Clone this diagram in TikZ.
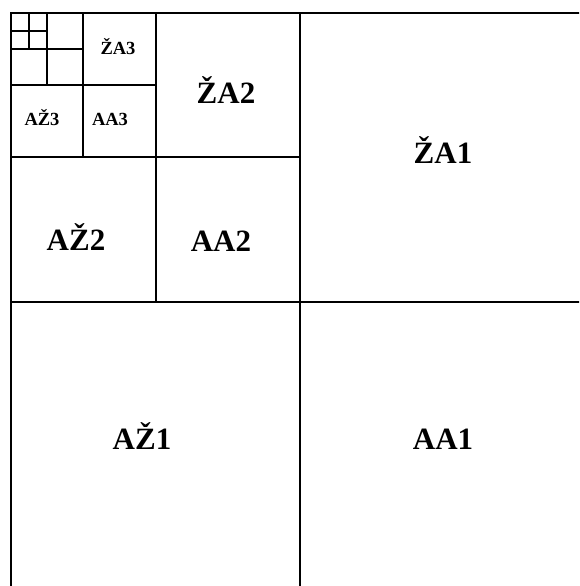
\documentclass[tikz,border=0pt]{standalone}
\usepackage{fontspec}
\setmainfont{Liberation Serif}
\usepackage{tikz}

\begin{document}
\begin{tikzpicture}[
  x=1pt, y=-1pt,
  wall/.style={line width=2.8pt, line cap=rect},
  bigname/.style={font=\bfseries\fontsize{31}{31}\selectfont, inner sep=0pt, anchor=base},
  smallname/.style={font=\bfseries\fontsize{18.5}{18.5}\selectfont, inner sep=0pt, anchor=base}
]
\useasboundingbox (0,0) rectangle (579,586);
\clip (0,0) rectangle (579,586);
\fill[white] (0,0) rectangle (579,586);

% first split
\draw[wall] (11,600) -- (11,13) -- (600,13);
\draw[wall] (300,13) -- (300,600);
\draw[wall] (11,302) -- (600,302);
% second split
\draw[wall] (156,13) -- (156,302);
\draw[wall] (11,157) -- (300,157);
% third split
\draw[wall] (83,13) -- (83,157);
\draw[wall] (11,85) -- (156,85);
% fourth and fifth
\draw[wall] (47,13) -- (47,85);
\draw[wall] (11,49) -- (83,49);
\draw[wall] (29,13) -- (29,49);
\draw[wall] (11,31) -- (47,31);

\node[bigname] (za1) at (443,163) {ŽA1};
\node[bigname] (az1) at (142,449) {AŽ1};
\node[bigname] (aa1) at (443,449) {AA1};
\node[bigname] (za2) at (226,103) {ŽA2};
\node[bigname] (az2) at (76,250) {AŽ2};
\node[bigname] (aa2) at (221,251) {AA2};
\node[smallname] (za3) at (118,55) {ŽA3};
\node[smallname] (az3) at (42,125) {AŽ3};
\node[smallname] (aa3) at (110,125) {AA3};
\end{tikzpicture}
\end{document}
